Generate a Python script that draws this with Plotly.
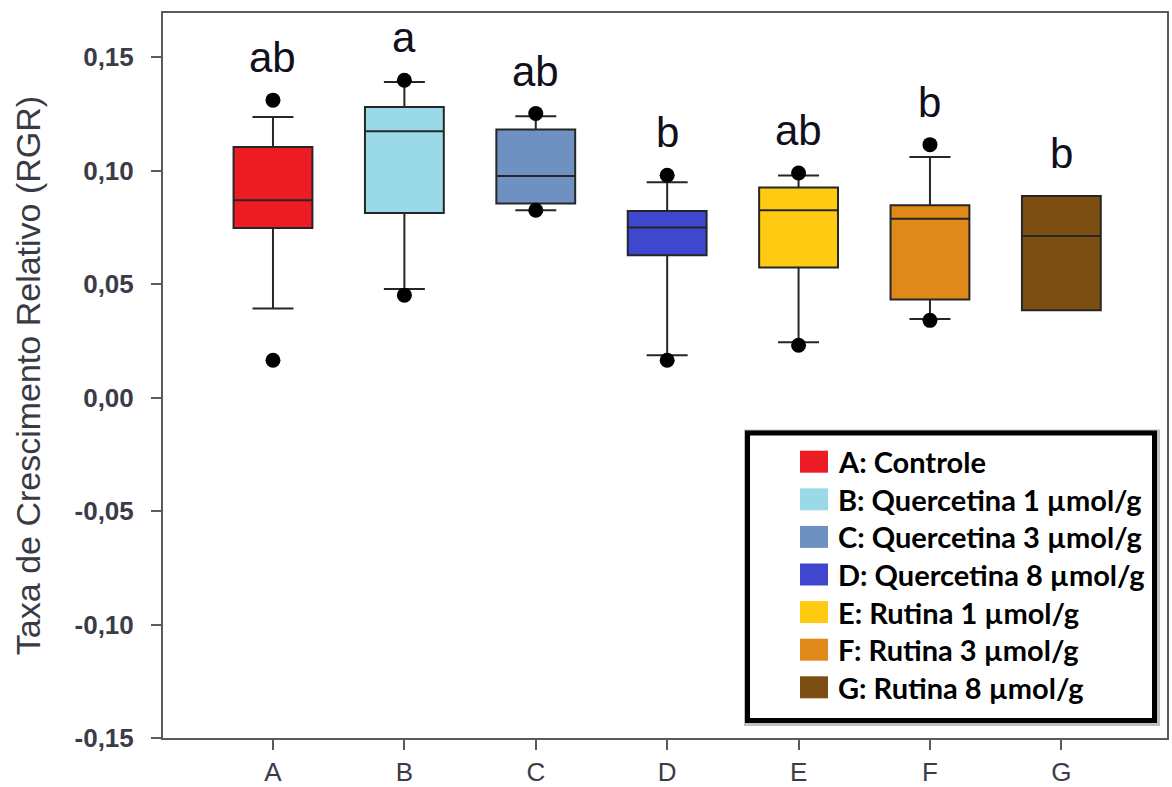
import plotly.graph_objects as go

# Relative growth rate (RGR) per treatment: summary statistics of each box
categories = ["A", "B", "C", "D", "E", "F", "G"]
treatments = [
    "A: Controle",
    "B: Quercetina 1 µmol/g",
    "C: Quercetina 3 µmol/g",
    "D: Quercetina 8 µmol/g",
    "E: Rutina 1 µmol/g",
    "F: Rutina 3 µmol/g",
    "G: Rutina 8 µmol/g",
]
q1 = [0.0747, 0.0813, 0.0855, 0.0627, 0.0573, 0.0432, 0.0385]
median = [0.0869, 0.1173, 0.0976, 0.0749, 0.0825, 0.0788, 0.0712]
q3 = [0.1104, 0.1280, 0.1181, 0.0822, 0.0925, 0.0847, 0.0888]
lower_whisker = [0.0392, 0.0478, 0.0825, 0.0186, 0.0244, 0.0346, 0.0385]
upper_whisker = [0.1236, 0.1390, 0.1239, 0.0948, 0.0978, 0.1060, 0.0888]
extreme_points = [
    [0.1310, 0.0164],
    [0.1398, 0.0451],
    [0.1251, 0.0825],
    [0.0979, 0.0164],
    [0.0989, 0.0230],
    [0.1114, 0.0340],
    [],
]
significance = ["ab", "a", "ab", "b", "ab", "b", "b"]
colors = ["#ED1C24", "#9ADAE8", "#6E91C2", "#3E47CE", "#FFCB12", "#E0891B", "#7D4E12"]

y_tick_values = [-0.15, -0.10, -0.05, 0.0, 0.05, 0.10, 0.15]
y_tick_labels = ["-0,15", "-0,10", "-0,05", "0,00", "0,05", "0,10", "0,15"]

W, H = 1172, 787
M_L, M_R, M_T, M_B = 163, 5, 13, 49
PW, PH = W - M_L - M_R, H - M_T - M_B


def px_x(px):
    return (px - M_L) / PW


def px_y(py):
    return (H - M_B - py) / PH


fig = go.Figure()

for i, cat in enumerate(categories):
    fig.add_trace(go.Box(
        x=[cat],
        q1=[q1[i]], median=[median[i]], q3=[q3[i]],
        lowerfence=[lower_whisker[i]], upperfence=[upper_whisker[i]],
        name=treatments[i],
        fillcolor=colors[i],
        line=dict(color="#262626", width=2),
        whiskerwidth=0.52,
        width=0.6,
        boxpoints=False,
        showlegend=False,
    ))

# Extreme values drawn as black dots
dot_x, dot_y = [], []
for cat, pts in zip(categories, extreme_points):
    for v in pts:
        dot_x.append(cat)
        dot_y.append(v)
fig.add_trace(go.Scatter(
    x=dot_x, y=dot_y, mode="markers",
    marker=dict(color="black", size=15),
    showlegend=False, hoverinfo="skip",
))

# Significance letters above each group
for i, cat in enumerate(categories):
    top = max([upper_whisker[i], q3[i]] + extreme_points[i])
    fig.add_annotation(
        x=cat, y=top, text=significance[i], showarrow=False,
        yanchor="bottom", yshift=17,
        font=dict(family="Liberation Sans, Arial", size=42, color="#10101c"),
    )

# Legend box drawn by hand
lx0, lx1, ly0, ly1 = 747.5, 1154.5, 433, 720.5
fig.add_shape(type="rect", xref="paper", yref="paper",
              x0=px_x(lx0 + 1), x1=px_x(lx1 + 1), y0=px_y(ly1 + 1), y1=px_y(ly0 + 1),
              line=dict(color="rgba(0,0,0,0.25)", width=9), layer="above")
fig.add_shape(type="rect", xref="paper", yref="paper",
              x0=px_x(lx0), x1=px_x(lx1), y0=px_y(ly1), y1=px_y(ly0),
              fillcolor="white", line=dict(color="black", width=5), layer="above")
row0, row_step = 461.7, 37.6
for i, label in enumerate(treatments):
    cy = row0 + i * row_step
    fig.add_shape(type="rect", xref="paper", yref="paper",
                  x0=px_x(800), x1=px_x(828), y0=px_y(cy + 11), y1=px_y(cy - 11),
                  fillcolor=colors[i], line=dict(width=0), layer="above")
    fig.add_annotation(
        xref="paper", yref="paper", x=px_x(836), y=px_y(cy),
        xanchor="left", yanchor="middle", text=label, showarrow=False,
        font=dict(family="Lato", size=29, color="black", weight="bold"),
    )

fig.update_layout(
    width=W, height=H,
    margin=dict(l=M_L, r=M_R, t=M_T, b=M_B, autoexpand=False),
    paper_bgcolor="white", plot_bgcolor="white",
    boxmode="overlay",
    showlegend=False,
)
fig.update_xaxes(
    type="category", categoryorder="array", categoryarray=categories,
    range=[-0.837, 6.804], automargin=False,
    showline=True, mirror=True, linecolor="#5a5a5a", linewidth=2,
    showgrid=False, zeroline=False,
    ticks="outside", ticklen=10, tickwidth=2, tickcolor="#5a5a5a",
    ticklabelstandoff=0,
    tickfont=dict(family="Liberation Sans, Arial", size=26, color="#3c3c48"),
)
fig.update_yaxes(
    range=[-0.15, 0.1694], automargin=False,
    tickvals=y_tick_values, ticktext=y_tick_labels,
    showline=True, mirror=True, linecolor="#5a5a5a", linewidth=2,
    showgrid=False, zeroline=False,
    ticks="outside", ticklen=10, tickwidth=2, tickcolor="#5a5a5a",
    ticklabelstandoff=12,
    tickfont=dict(family="Liberation Sans, Arial", size=26, color="#3c3c48", weight="bold"),
    title=dict(text="Taxa de Crescimento Relativo (RGR)", standoff=24,
               font=dict(family="Liberation Sans, Arial", size=34, color="#3a3a44")),
)

fig.write_html("out.html")
